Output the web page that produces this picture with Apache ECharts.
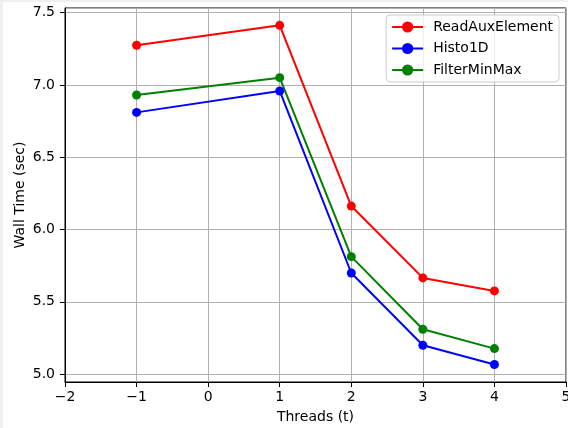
<!DOCTYPE html>
<html>
<head>
<meta charset="utf-8">
<script src="https://cdn.jsdelivr.net/npm/echarts@6/dist/echarts.min.js"></script>
<style>
html,body{margin:0;padding:0;background:#f0f0f0;width:568px;height:428px;overflow:hidden;}
#chart{position:absolute;left:3px;top:2px;width:565px;height:426px;background:#fff;}
</style>
</head>
<body>
<div id="chart"></div>
<script>
var threads = [-1, 1, 2, 3, 4];
var readAuxElement = [7.274, 7.412, 6.162, 5.665, 5.575];
var histo1D = [6.810, 6.958, 5.699, 5.199, 5.066];
var filterMinMax = [6.930, 7.050, 5.812, 5.310, 5.176];
var seriesNames = ['ReadAuxElement', 'Histo1D', 'FilterMinMax'];
var seriesColors = ['#ff0000', '#0000ff', '#008000'];

function pairs(xs, ys) { return xs.map(function (x, i) { return [x, ys[i]]; }); }
var allValues = [readAuxElement, histo1D, filterMinMax];

var FONT = 'DejaVu Sans';
var chart = echarts.init(document.getElementById('chart'), null, {renderer: 'canvas'});
chart.setOption({
  animation: false,
  textStyle: {fontFamily: FONT},
  grid: {left: 62, right: 2, top: 6, bottom: 46, containLabel: false, outerBoundsMode: 'none',
    show: true, borderColor: '#000', borderWidth: 1, backgroundColor: '#fff'},
  legend: {
    orient: 'vertical', right: 9, top: 13,
    itemWidth: 31, itemHeight: 14, itemGap: 7.5,
    padding: [5, 6, 5, 5],
    backgroundColor: 'rgba(255,255,255,0.8)', borderColor: '#cccccc', borderWidth: 1, borderRadius: 4,
    textStyle: {fontFamily: FONT, fontSize: 14, color: '#000', padding: [0, 0, 0, 5]},
    data: seriesNames
  },
  xAxis: {
    type: 'value', min: -2, max: 5, interval: 1,
    name: 'Threads (t)', nameLocation: 'middle', nameGap: 28, nameMoveOverlap: false,
    nameTextStyle: {fontFamily: FONT, fontSize: 14, color: '#000'},
    axisLine: {show: true, onZero: false, lineStyle: {color: '#000', width: 1}},
    axisTick: {show: true, length: 5, lineStyle: {color: '#000', width: 1}},
    axisLabel: {fontFamily: FONT, fontSize: 14, color: '#000', margin: 8,
      formatter: function (v) { return String(v).replace('-', '\u2212'); }},
    splitLine: {show: true, lineStyle: {color: '#b0b0b0', width: 1}}
  },
  yAxis: {
    type: 'value', min: 4.945, max: 7.532,
    name: 'Wall Time (sec)', nameLocation: 'middle', nameGap: 38, nameMoveOverlap: false,
    nameTextStyle: {fontFamily: FONT, fontSize: 14, color: '#000'},
    axisLine: {show: true, onZero: false, lineStyle: {color: '#000', width: 1}},
    axisTick: {show: true, length: 5, lineStyle: {color: '#000', width: 1}},
    axisLabel: {fontFamily: FONT, fontSize: 14, color: '#000', margin: 10, showMinLabel: false, showMaxLabel: false,
      formatter: function (v) { var r = Math.round(v * 2) / 2; return Math.abs(r - v) < 1e-6 ? r.toFixed(1) : ''; }},
    splitLine: {show: true, lineStyle: {color: '#b0b0b0', width: 1}}
  },
  series: seriesNames.map(function (n, i) {
    return {
      name: n, type: 'line', data: pairs(threads, allValues[i]),
      symbol: 'circle', symbolSize: 9,
      lineStyle: {color: seriesColors[i], width: 2},
      itemStyle: {color: seriesColors[i]}
    };
  })
});
</script>
</body>
</html>
